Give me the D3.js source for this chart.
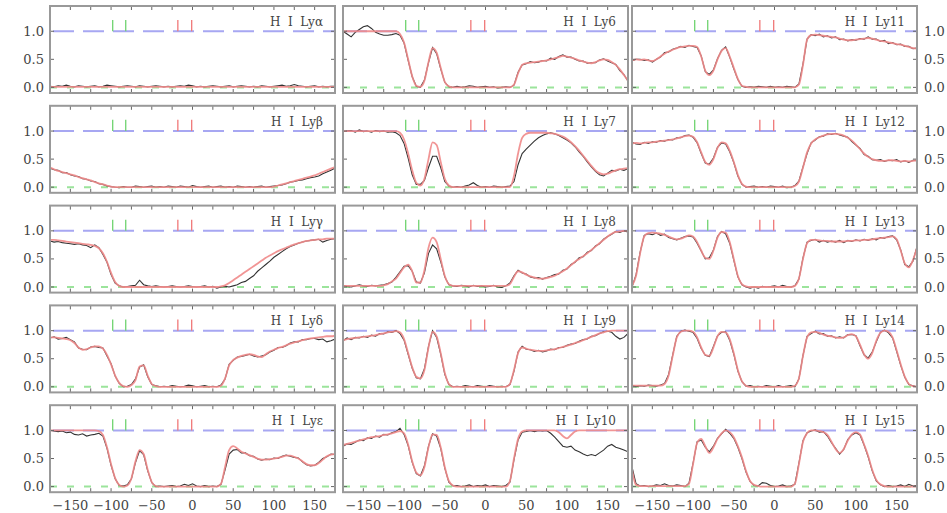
<!DOCTYPE html>
<html>
<head>
<meta charset="utf-8">
<script src="https://cdn.jsdelivr.net/npm/d3@7"></script>
<style>
html,body{margin:0;padding:0;background:#fff;}
svg{display:block;}
text{font-family:"DejaVu Serif",serif;fill:#444;}
</style>
</head>
<body>
<svg id="chart" width="947" height="513"></svg>
<script>
// velocity grid (km/s), 5 km/s bins from -175 to 175
const velocity = d3.range(-175, 176, 5);
const xTickLabels = [-150, -100, -50, 0, 50, 100, 150];
const yTickLabels = [0.0, 0.5, 1.0];
const greenMarks = [-98, -82];
const redMarks = [-18, -1];
const panelNames = ["H I Lyα","H I Lyβ","H I Lyγ","H I Lyδ","H I Lyε",
  "H I Ly6","H I Ly7","H I Ly8","H I Ly9","H I Ly10",
  "H I Ly11","H I Ly12","H I Ly13","H I Ly14","H I Ly15"];

const lyaData = [0.02,0.01,0.03,0.02,0.04,0.02,0.01,0.03,0.02,0.01,
 0.02,0.03,0.01,0.02,0.04,0.03,0.02,0.01,0.02,0.03,
 0.02,0.01,0.03,0.02,0.01,0.02,0.03,0.02,0.01,0.02,
 0.01,0.02,0.03,0.02,0.04,0.03,0.01,0.02,0.01,0.02,
 0.03,0.02,0.01,0.02,0.03,0.01,0.02,0.03,0.02,0.01,
 0.02,0.01,0.03,0.02,0.01,0.02,0.03,0.04,0.02,0.03,
 0.05,0.03,0.02,0.01,0.02,0.03,0.01,0.02,0.01,0.02,0.02];
const lyaModel = [0.01,0.01,0.01,0.01,0.01,0.01,0.01,0.01,0.01,0.01,
 0.01,0.01,0.01,0.01,0.01,0.01,0.01,0.01,0.01,0.01,
 0.01,0.01,0.01,0.01,0.01,0.01,0.01,0.01,0.01,0.01,
 0.01,0.01,0.01,0.01,0.01,0.01,0.01,0.01,0.01,0.01,
 0.01,0.01,0.01,0.01,0.01,0.01,0.01,0.01,0.01,0.01,
 0.01,0.01,0.01,0.01,0.01,0.01,0.01,0.01,0.01,0.01,
 0.01,0.01,0.01,0.01,0.01,0.01,0.01,0.01,0.01,0.01,0.01];

const lybData = [0.34,0.31,0.3,0.26,0.26,0.22,0.2,0.19,0.15,0.14,
 0.11,0.1,0.06,0.05,0.02,0.01,0.0,-0.01,0.01,0.0,
 0.0,0.02,0.01,0.0,0.01,0.02,0.0,0.01,0.0,0.02,
 0.01,0.0,0.02,0.01,0.0,0.03,0.01,0.0,0.01,0.02,
 0.0,0.01,0.02,0.0,0.01,0.0,0.02,0.01,0.0,0.01,
 0.0,0.01,0.02,0.0,0.01,0.02,0.03,0.04,0.06,0.09,
 0.1,0.12,0.13,0.15,0.17,0.18,0.2,0.24,0.27,0.3,0.34];
const lybModel = [0.35,0.32,0.29,0.27,0.25,0.23,0.21,0.18,0.16,0.14,
 0.12,0.09,0.07,0.05,0.03,0.01,0,0,0,0,
 0,0,0,0,0,0,0,0,0,0,
 0,0,0,0,0,0,0,0,0,0,
 0,0,0,0,0,0,0,0,0,0,
 0,0,0,0,0,0.01,0.03,0.05,0.07,0.09,
 0.11,0.13,0.15,0.17,0.19,0.21,0.24,0.27,0.3,0.33,0.36];

const lygData = [0.82,0.80,0.81,0.79,0.78,0.77,0.76,0.77,0.75,0.74,
 0.70,0.75,0.70,0.58,0.44,0.22,0.07,0.02,0.0,0.01,
 0.02,0.03,0.12,0.04,0.02,0.01,0.02,0.01,0.0,0.01,
 0.02,0.01,0.0,0.01,0.02,0.01,0.0,0.01,0.02,0.0,
 0.01,-0.02,0.0,0.01,0.0,0.02,0.04,0.08,0.10,0.15,
 0.2,0.28,0.34,0.40,0.46,0.53,0.58,0.63,0.68,0.72,
 0.75,0.78,0.80,0.82,0.83,0.84,0.85,0.80,0.83,0.85,0.86];
const lygModel = [0.84,0.84,0.83,0.82,0.81,0.80,0.79,0.78,0.77,0.76,
 0.75,0.73,0.69,0.60,0.45,0.25,0.09,0.02,0,0,
 0,0,0,0,0,0,0,0,0,0,
 0,0,0,0,0,0,0,0,0,0,
 0,0,0.01,0.03,0.07,0.12,0.17,0.22,0.27,0.32,
 0.37,0.42,0.47,0.52,0.56,0.60,0.64,0.67,0.70,0.73,
 0.76,0.78,0.80,0.82,0.83,0.84,0.85,0.85,0.86,0.86,0.86];

const lydData = [0.87,0.89,0.85,0.86,0.88,0.84,0.8,0.69,0.67,0.66,
 0.71,0.72,0.7,0.69,0.55,0.41,0.19,0.06,0.0,0.01,
 0.04,0.14,0.35,0.39,0.18,0.04,0.02,0.0,0.01,0.0,
 0.02,0.01,0.0,0.01,0.03,0.02,0.0,0.01,0.02,0.0,
 0.01,0.0,0.03,0.14,0.4,0.47,0.53,0.54,0.56,0.58,
 0.55,0.53,0.55,0.57,0.62,0.65,0.7,0.7,0.73,0.78,
 0.8,0.8,0.84,0.84,0.86,0.86,0.84,0.85,0.8,0.82,0.85];
const lydModel = [0.88,0.88,0.87,0.86,0.85,0.83,0.78,0.70,0.66,0.67,
 0.70,0.72,0.72,0.68,0.57,0.40,0.20,0.07,0.01,0.0,
 0.03,0.12,0.36,0.38,0.20,0.05,0.01,0,0,0,
 0,0,0,0,0,0,0,0,0,0,
 0,0,0.02,0.15,0.38,0.48,0.52,0.55,0.57,0.58,
 0.57,0.54,0.53,0.58,0.63,0.66,0.69,0.71,0.74,0.77,
 0.79,0.81,0.83,0.85,0.86,0.87,0.88,0.89,0.9,0.9,0.91];

const lyeData = [1.0,0.99,0.98,0.99,0.96,0.97,0.93,0.92,0.94,0.9,
 0.92,0.93,0.95,0.9,0.68,0.38,0.14,0.02,0.01,0.03,
 0.14,0.43,0.64,0.57,0.28,0.07,0.0,0.01,0.0,0.01,
 0.02,0.0,0.01,0.04,0.02,0.05,0.01,0.0,0.02,0.0,
 0.01,0.0,0.04,0.3,0.58,0.65,0.66,0.6,0.6,0.55,
 0.54,0.49,0.47,0.49,0.48,0.51,0.5,0.54,0.56,0.54,
 0.52,0.51,0.44,0.39,0.37,0.38,0.43,0.5,0.53,0.58,0.57];
const lyeModel = [1,1,1,1,1,1,1,1,1,1,
 1.0,1.0,0.99,0.92,0.7,0.4,0.15,0.03,0.0,0.02,
 0.15,0.45,0.65,0.58,0.3,0.08,0.01,0,0,0,
 0,0,0,0,0,0,0,0,0,0,
 0,0,0.05,0.35,0.65,0.72,0.68,0.62,0.59,0.56,
 0.53,0.5,0.48,0.48,0.49,0.5,0.51,0.53,0.55,0.55,
 0.53,0.5,0.45,0.40,0.38,0.38,0.42,0.48,0.54,0.57,0.58];

const ly6Data = [1.0,0.95,0.9,0.98,1.03,1.08,1.1,1.05,0.98,0.95,
 0.93,0.93,0.94,0.96,0.93,0.79,0.48,0.19,0.02,0.0,
 0.13,0.44,0.71,0.6,0.33,0.09,0.01,0.0,0.02,0.0,
 0.01,0.03,0.02,0.0,0.01,0.02,0.0,0.01,-0.01,0.0,
 0.01,0.0,0.04,0.27,0.4,0.42,0.46,0.44,0.45,0.48,
 0.47,0.52,0.5,0.55,0.58,0.54,0.54,0.5,0.47,0.47,
 0.43,0.44,0.44,0.49,0.51,0.47,0.44,0.41,0.3,0.23,0.11];
const ly6Model = [1,1,1,1,1,1,1,1,1,1,
 1,1,1,1,0.95,0.8,0.5,0.2,0.03,0.01,
 0.12,0.45,0.7,0.62,0.35,0.1,0.02,0,0,0,
 0,0,0,0,0,0,0,0,0,0,
 0,0,0.05,0.25,0.4,0.43,0.44,0.45,0.46,0.47,
 0.48,0.5,0.52,0.54,0.56,0.55,0.53,0.51,0.48,0.46,
 0.44,0.43,0.45,0.48,0.5,0.49,0.45,0.4,0.32,0.22,0.12];

const ly7Data = [0.99,1.0,1.01,0.98,1.02,0.99,1.0,0.98,1.01,0.99,
 1.0,0.98,0.99,0.97,0.92,0.78,0.52,0.22,0.05,0.05,
 0.12,0.35,0.55,0.55,0.35,0.1,0.02,0.0,0.01,0.0,
 0.02,0.04,0.08,0.03,0.0,0.01,0.0,0.02,0.01,0.0,
 0.01,0.02,0.1,0.4,0.6,0.68,0.75,0.82,0.88,0.92,
 0.95,0.97,0.95,0.92,0.88,0.84,0.79,0.72,0.63,0.55,
 0.45,0.36,0.28,0.22,0.2,0.25,0.3,0.29,0.32,0.3,0.33];
const ly7Model = [1,1,1,1,1,1,1,1,1,1,
 1,1,1,1,0.97,0.85,0.6,0.3,0.08,0.03,
 0.15,0.5,0.8,0.75,0.45,0.15,0.03,0,0,0,
 0,0,0,0,0,0,0,0,0,0,
 0,0,0.2,0.6,0.88,0.95,0.97,0.97,0.97,0.97,
 0.97,0.96,0.95,0.93,0.9,0.86,0.8,0.73,0.65,0.56,
 0.47,0.38,0.3,0.25,0.23,0.24,0.27,0.3,0.32,0.33,0.34];

const ly8Data = [0.03,0.01,0.0,0.02,0.04,0.02,0.01,0.03,0.02,0.03,
 0.04,0.06,0.09,0.17,0.27,0.37,0.38,0.28,0.09,0.07,
 0.25,0.6,0.75,0.68,0.45,0.18,0.04,0.02,0.01,0.03,
 0.02,0.0,0.03,0.01,0.02,0.0,0.01,0.03,0.0,-0.01,
 0.02,0.07,0.2,0.3,0.25,0.23,0.18,0.16,0.17,0.14,
 0.17,0.19,0.22,0.23,0.3,0.32,0.4,0.44,0.52,0.54,
 0.62,0.65,0.73,0.77,0.85,0.9,0.94,0.99,0.97,1.0,0.98];
const ly8Model = [0.02,0.02,0.02,0.02,0.02,0.02,0.02,0.02,0.02,0.02,
 0.03,0.05,0.1,0.15,0.25,0.35,0.4,0.28,0.08,0.08,
 0.3,0.7,0.88,0.8,0.5,0.2,0.05,0.02,0.02,0.02,
 0.02,0.02,0.02,0.02,0.02,0.02,0.02,0.02,0.02,0.02,
 0.02,0.05,0.18,0.28,0.26,0.22,0.19,0.17,0.15,0.15,
 0.16,0.18,0.2,0.24,0.28,0.33,0.39,0.45,0.5,0.55,
 0.6,0.66,0.72,0.78,0.84,0.9,0.95,0.98,0.99,1.0,1.0];

const ly9Data = [0.82,0.87,0.84,0.88,0.87,0.9,0.88,0.92,0.9,0.95,
 0.94,0.98,0.97,1.0,0.95,0.83,0.58,0.33,0.16,0.14,
 0.32,0.72,1.0,0.88,0.58,0.22,0.04,0.0,0.01,0.0,
 0.02,0.01,0.0,0.02,0.01,0.0,0.02,0.01,0.0,0.01,
 0.0,0.04,0.28,0.62,0.72,0.67,0.66,0.63,0.65,0.62,
 0.64,0.67,0.66,0.7,0.7,0.74,0.76,0.77,0.81,0.84,
 0.85,0.9,0.91,0.95,0.98,0.99,0.97,0.9,0.85,0.88,0.95];
const ly9Model = [0.83,0.85,0.86,0.87,0.88,0.89,0.9,0.91,0.92,0.94,
 0.95,0.97,0.98,0.99,0.97,0.85,0.6,0.35,0.18,0.15,
 0.3,0.7,0.98,0.9,0.6,0.25,0.05,0,0,0,
 0,0,0,0,0,0,0,0,0,0,
 0,0.05,0.3,0.6,0.7,0.68,0.66,0.65,0.64,0.64,
 0.65,0.66,0.67,0.69,0.71,0.73,0.75,0.78,0.8,0.83,
 0.86,0.89,0.92,0.95,0.97,0.99,1,1,1,1,1];

const ly10Data = [0.72,0.76,0.75,0.79,0.83,0.82,0.87,0.86,0.9,0.88,
 0.93,0.92,0.96,0.98,1.04,0.93,0.73,0.43,0.23,0.19,
 0.37,0.72,0.94,0.9,0.68,0.33,0.08,0.01,0.02,0.0,
 0.01,0.03,0.0,0.02,0.01,0.03,0.0,0.02,0.01,0.0,
 0.02,0.08,0.48,0.83,0.97,0.98,1.0,0.98,1.0,0.99,
 1.0,0.95,0.88,0.8,0.72,0.7,0.72,0.65,0.62,0.58,
 0.55,0.57,0.55,0.6,0.65,0.72,0.75,0.7,0.68,0.65,0.62];
const ly10Model = [0.74,0.76,0.78,0.8,0.82,0.84,0.86,0.88,0.89,0.9,
 0.92,0.93,0.95,0.97,0.99,0.95,0.75,0.45,0.25,0.2,
 0.35,0.7,0.93,0.92,0.7,0.35,0.1,0.02,0,0,
 0,0,0,0,0,0,0,0,0,0,
 0,0.1,0.5,0.85,0.98,1,1,1,1,1,
 1,1,1,0.97,0.9,0.86,0.92,0.98,1,1,
 1,1,1,1,1,1,1,1,1,1,1];

const ly11Data = [0.47,0.5,0.5,0.48,0.49,0.45,0.5,0.54,0.62,0.63,
 0.68,0.7,0.73,0.71,0.75,0.73,0.71,0.56,0.28,0.23,
 0.31,0.51,0.66,0.72,0.54,0.33,0.14,0.02,0.0,0.01,
 0.0,0.02,0.01,0.0,0.02,0.0,0.01,0.0,0.02,0.01,
 0.0,0.06,0.42,0.86,0.94,0.92,0.95,0.9,0.92,0.88,
 0.9,0.85,0.86,0.83,0.85,0.84,0.87,0.86,0.9,0.86,
 0.86,0.82,0.84,0.78,0.8,0.76,0.77,0.73,0.73,0.69,0.7];
const ly11Model = [0.48,0.5,0.49,0.5,0.48,0.47,0.5,0.55,0.6,0.64,
 0.67,0.7,0.72,0.73,0.74,0.74,0.72,0.55,0.3,0.22,
 0.3,0.5,0.65,0.7,0.55,0.35,0.15,0.03,0.01,0,
 0,0,0,0,0,0,0,0,0,0,
 0,0.05,0.4,0.85,0.93,0.94,0.93,0.92,0.91,0.9,
 0.89,0.87,0.85,0.84,0.84,0.85,0.86,0.87,0.88,0.87,
 0.85,0.83,0.82,0.8,0.79,0.77,0.76,0.74,0.72,0.7,0.69];

const ly12Data = [0.8,0.77,0.76,0.8,0.78,0.81,0.8,0.83,0.82,0.85,
 0.84,0.88,0.88,0.92,0.93,0.89,0.79,0.6,0.43,0.41,
 0.52,0.71,0.79,0.77,0.63,0.44,0.2,0.05,0.0,0.01,
 0.02,0.0,0.01,0.0,0.02,0.01,0.0,0.02,-0.01,0.0,
 0.03,0.11,0.36,0.6,0.79,0.84,0.9,0.91,0.95,0.94,
 0.96,0.93,0.91,0.89,0.81,0.75,0.69,0.58,0.55,0.49,
 0.48,0.49,0.46,0.48,0.47,0.49,0.45,0.47,0.44,0.48,0.47];
const ly12Model = [0.78,0.79,0.78,0.79,0.8,0.8,0.81,0.82,0.83,0.84,
 0.85,0.87,0.89,0.91,0.92,0.9,0.8,0.62,0.45,0.4,
 0.5,0.7,0.8,0.78,0.65,0.45,0.22,0.06,0.01,0,
 0,0,0,0,0,0,0,0,0,0,
 0.02,0.1,0.35,0.62,0.78,0.85,0.89,0.92,0.94,0.95,
 0.95,0.94,0.92,0.88,0.83,0.76,0.68,0.6,0.54,0.5,
 0.48,0.47,0.47,0.48,0.48,0.47,0.46,0.47,0.46,0.47,0.48];

const ly13Data = [0.0,0.22,0.62,0.92,0.95,0.93,0.96,0.92,0.94,0.88,
 0.86,0.84,0.87,0.9,0.91,0.89,0.78,0.64,0.5,0.52,
 0.66,0.9,0.99,0.95,0.78,0.48,0.18,0.04,0.0,-0.02,
 0.0,-0.02,0.01,0.0,0.01,0.02,0.0,0.03,0.01,0.0,
 0.02,0.14,0.52,0.8,0.83,0.85,0.8,0.83,0.8,0.82,
 0.8,0.83,0.79,0.83,0.81,0.84,0.82,0.85,0.83,0.86,
 0.84,0.88,0.87,0.9,0.91,0.84,0.66,0.4,0.36,0.46,0.72];
const ly13Model = [0.02,0.2,0.6,0.9,0.96,0.97,0.96,0.95,0.93,0.9,
 0.87,0.85,0.86,0.89,0.92,0.9,0.8,0.65,0.52,0.5,
 0.65,0.88,0.98,0.97,0.8,0.5,0.2,0.05,0.01,0,
 0,0,0,0,0,0,0,0,0,0,
 0.02,0.15,0.5,0.78,0.84,0.84,0.83,0.82,0.82,0.81,
 0.81,0.81,0.81,0.82,0.82,0.83,0.83,0.84,0.84,0.85,
 0.86,0.87,0.88,0.89,0.9,0.85,0.65,0.42,0.35,0.48,0.7];

const ly14Data = [0.03,0.0,0.02,0.01,0.03,0.02,0.01,0.03,0.06,0.22,
 0.57,0.9,0.99,1.01,0.99,0.97,0.86,0.68,0.56,0.54,
 0.72,0.91,0.97,0.98,0.83,0.58,0.28,0.09,0.01,0.02,
 0.0,0.01,0.0,0.02,0.01,0.0,0.02,0.0,0.01,0.02,
 0.0,0.14,0.56,0.9,0.95,0.99,0.94,0.95,0.9,0.91,
 0.87,0.89,0.87,0.93,0.93,0.91,0.73,0.57,0.51,0.62,
 0.8,0.97,1.01,0.96,0.87,0.63,0.38,0.17,0.04,0.02,0.0];
const ly14Model = [0.02,0.02,0.02,0.02,0.02,0.02,0.02,0.02,0.05,0.2,
 0.55,0.88,0.98,1.0,1.0,0.98,0.88,0.7,0.57,0.55,
 0.7,0.9,0.98,0.97,0.85,0.6,0.3,0.1,0.02,0,
 0,0,0,0,0,0,0,0,0,0,
 0.02,0.15,0.55,0.88,0.97,0.98,0.96,0.93,0.91,0.9,
 0.88,0.87,0.88,0.92,0.94,0.9,0.75,0.58,0.5,0.6,
 0.82,0.96,1.0,0.98,0.88,0.65,0.4,0.18,0.05,0.01,0];

const ly15Data = [0.35,0.05,0.01,0.02,0.0,0.01,0.03,0.02,0.05,0.02,
 0.01,0.03,0.02,0.0,0.06,0.42,0.8,0.83,0.7,0.62,
 0.72,0.86,0.94,1.02,0.95,0.86,0.7,0.5,0.26,0.09,
 0.02,0.01,0.07,0.06,0.02,0.0,0.01,0.03,0.0,0.01,
 0.04,0.42,0.82,0.96,0.99,1.01,0.97,0.98,0.9,0.78,
 0.68,0.58,0.66,0.84,0.92,0.96,0.92,0.74,0.53,0.28,
 0.1,0.03,0.0,0.02,0.0,0.01,0.03,0.0,0.04,0.01,0.02];
const ly15Model = [0.3,0.03,0.01,0.01,0.01,0.01,0.01,0.01,0.01,0.01,
 0.01,0.01,0.01,0.01,0.05,0.4,0.78,0.85,0.72,0.6,
 0.7,0.85,0.95,1.0,0.97,0.88,0.72,0.52,0.28,0.1,
 0.03,0.01,0,0,0,0,0,0,0,0,
 0.05,0.4,0.8,0.95,1.0,1.0,0.99,0.97,0.92,0.8,
 0.67,0.6,0.67,0.82,0.93,0.97,0.93,0.75,0.55,0.3,
 0.12,0.04,0.01,0,0,0,0,0,0,0,0];

const dataSeries = [lyaData,lybData,lygData,lydData,lyeData,
  ly6Data,ly7Data,ly8Data,ly9Data,ly10Data,
  ly11Data,ly12Data,ly13Data,ly14Data,ly15Data];
const modelSeries = [lyaModel,lybModel,lygModel,lydModel,lyeModel,
  ly6Model,ly7Model,ly8Model,ly9Model,ly10Model,
  ly11Model,ly12Model,ly13Model,ly14Model,ly15Model];

// ---------- layout ----------
const svg = d3.select("#chart");
const colLeft = [50, 343, 632];
const panelW = 285, panelH = 87;
const rowTop = r => 6 + r * 99.8;

const x = d3.scaleLinear().domain([-175, 175]).range([0, panelW]);
const y = d3.scaleLinear().domain([-0.1, 1.45]).range([panelH, 0]);

const defs = svg.append("defs");
defs.append("clipPath").attr("id", "clip")
  .append("rect").attr("x", 0).attr("y", 0).attr("width", panelW).attr("height", panelH);

const dataLine = d3.line().x((d, i) => x(velocity[i])).y(d => y(d)).curve(d3.curveLinear);
const modelLine = d3.line().x((d, i) => x(velocity[i])).y(d => y(d)).curve(d3.curveMonotoneX);

for (let c = 0; c < 3; c++) {
  for (let r = 0; r < 5; r++) {
    const idx = c * 5 + r;
    const g = svg.append("g").attr("transform", `translate(${colLeft[c]},${rowTop(r)})`);
    const inner = g.append("g").attr("clip-path", "url(#clip)");

    // reference lines
    inner.append("line").attr("x1", 0).attr("x2", panelW)
      .attr("y1", y(1)).attr("y2", y(1))
      .attr("stroke", "#a7a7f2").attr("stroke-width", 2)
      .attr("stroke-dasharray", "21,9").attr("stroke-dashoffset", -3);
    inner.append("line").attr("x1", 0).attr("x2", panelW)
      .attr("y1", y(0)).attr("y2", y(0))
      .attr("stroke", "#9be49b").attr("stroke-width", 2)
      .attr("stroke-dasharray", "7,10");

    // component markers
    greenMarks.forEach(v => inner.append("line")
      .attr("x1", x(v)).attr("x2", x(v)).attr("y1", y(1.0)).attr("y2", y(1.2))
      .attr("stroke", "#6fd36f").attr("stroke-width", 1.3));
    redMarks.forEach(v => inner.append("line")
      .attr("x1", x(v)).attr("x2", x(v)).attr("y1", y(1.0)).attr("y2", y(1.2))
      .attr("stroke", "#f07878").attr("stroke-width", 1.3));

    // data & model
    inner.append("path").datum(dataSeries[idx]).attr("d", dataLine)
      .attr("fill", "none").attr("stroke", "#333").attr("stroke-width", 1.1);
    inner.append("path").datum(modelSeries[idx]).attr("d", modelLine)
      .attr("fill", "none").attr("stroke", "#f08a8a").attr("stroke-width", 1.8)
      .attr("stroke-opacity", 0.9);

    // ticks
    const xt = d3.range(-175, 176, 25);
    const tk = g.append("g").attr("stroke", "#666").attr("stroke-width", 1);
    xt.forEach(v => {
      tk.append("line").attr("x1", x(v)).attr("x2", x(v)).attr("y1", 0).attr("y2", 4);
      tk.append("line").attr("x1", x(v)).attr("x2", x(v)).attr("y1", panelH).attr("y2", panelH - 4);
    });
    yTickLabels.forEach(v => {
      tk.append("line").attr("x1", 0).attr("x2", 4).attr("y1", y(v)).attr("y2", y(v));
      tk.append("line").attr("x1", panelW).attr("x2", panelW - 4).attr("y1", y(v)).attr("y2", y(v));
    });

    // frame
    g.append("rect").attr("x", 0).attr("y", 0).attr("width", panelW).attr("height", panelH)
      .attr("fill", "none").attr("stroke", "#999").attr("stroke-width", 2);

    // title
    g.append("text").attr("x", panelW - 12).attr("y", 20)
      .attr("text-anchor", "end").attr("font-size", 12)
      .style("white-space", "pre").attr("fill", "#444")
      .text(panelNames[idx].replace(/ /g, "  "));

    // y labels
    if (c === 0) {
      yTickLabels.forEach(v => g.append("text").attr("x", -6).attr("y", y(v))
        .attr("dy", "0.35em").attr("text-anchor", "end").attr("font-size", 13)
        .text(d3.format(".1f")(v)));
    }
    if (c === 2) {
      yTickLabels.forEach(v => g.append("text").attr("x", panelW + 7).attr("y", y(v))
        .attr("dy", "0.35em").attr("text-anchor", "start").attr("font-size", 13)
        .text(d3.format(".1f")(v)));
    }
    // x labels
    if (r === 4) {
      xTickLabels.forEach(v => g.append("text").attr("x", x(v)).attr("y", panelH + 18)
        .attr("text-anchor", "middle").attr("font-size", 13)
        .text(v < 0 ? "\u2212" + Math.abs(v) : String(v)));
    }
  }
}
</script>
</body>
</html>
